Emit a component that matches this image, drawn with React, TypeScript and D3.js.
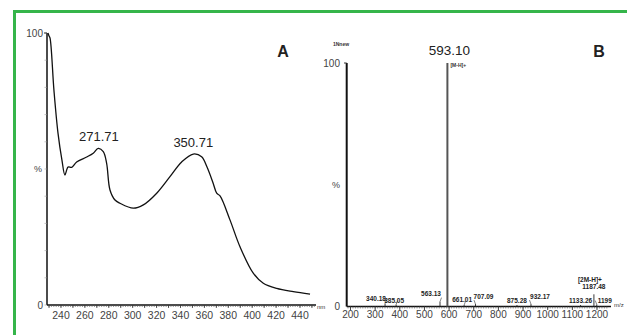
import * as d3 from "d3";

// Panel A: UV spectrum (wavelength nm, relative %)
const uvWavelength = [
  229.1, 230.0, 230.8, 234.1, 237.5, 240.8, 243.3, 245.9, 249.0, 253.1, 261.5, 267.0,
  271.2, 275.4, 278.2, 281.0, 285.2, 289.4, 300.5, 308.9, 320.1, 331.2, 341.0, 350.7,
  357.7, 362.2, 367.4, 370.3, 373.1, 381.4, 389.8, 400.9, 409.3, 420.5, 434.4, 448.4,
];
const uvPercent = [
  100, 98.9, 98.2, 79, 63.2, 53.3, 47.8, 50.7, 50.6, 52.6, 54.4, 55.8,
  57.6, 56.4, 52.1, 42.3, 38.6, 37.4, 35.6, 36.8, 41.1, 47.2, 52.6, 55.5,
  54.5, 50.7, 44.7, 41.1, 40.1, 31.3, 21.4, 11.7, 8.0, 6.1, 4.9, 4.0,
];
const uvPeakLabels = ["271.71", "350.71"];
const uvPeakPositions = [271.71, 350.71];
const uvPeakHeights = [57.6, 55.5];
const uvTicks = [240, 260, 280, 300, 320, 340, 360, 380, 400, 420, 440];

// Panel B: mass spectrum (m/z, relative intensity %)
const msMz = [340.18, 385.05, 563.13, 593.1, 661.01, 707.09, 875.28, 932.17, 1133.26, 1187.48, 1199];
const msIntensity = [1.2, 0.8, 2.0, 100, 0.6, 1.0, 0.6, 1.0, 0.6, 5.0, 0.8];
const msLabels = ["340.18", "385.05", "563.13", "", "661.01", "707.09", "875.28", "932.17", "1133.26", "1187.48", "1199"];
const msTicks = [200, 300, 400, 500, 600, 700, 800, 900, 1000, 1100, 1200];

// label layout nudges (px) for the small peak annotations
const msLabelDx = [-9, -2, -9, 0, -2, 8, 0, 9, 0, 0, 8];
const msLabelDy = [2, 3, -1, 0, 2, 0, 3, 0, 3, 0, 3];

const FONT = "'Liberation Sans', Arial, sans-serif";
const NARROW = "'Liberation Sans Narrow', 'Liberation Sans', Arial, sans-serif";

export default function App() {
  const width = 627;
  const height = 335;

  // A scales
  const xA = d3.scaleLinear().domain([228.3, 453.4]).range([47, 316]);
  const yA = d3.scaleLinear().domain([0, 100]).range([305, 33]);
  const uvLine = d3
    .line<number>()
    .x((d, i) => xA(uvWavelength[i]))
    .y((d) => yA(d))
    .curve(d3.curveCatmullRom.alpha(0.5));

  const minorA = d3.range(230, 453, 2);
  const midA = d3.range(230, 453, 10);

  // B scales
  const xB = d3.scaleLinear().domain([184.6, 1256.8]).range([346.7, 611]);
  const yB = d3.scaleLinear().domain([0, 100]).range([306.5, 63]);
  const minorB = d3.range(190, 1250, 10);

  const tickGrey = "#444";

  return (
    <div style={{ position: "absolute", left: 0, top: 0 }}>
      <svg width={width} height={height} style={{ display: "block", background: "#fff" }}>
        {/* Frame */}
        <rect x={14.5} y={11.5} width={700} height={400} fill="none" stroke="#35b54a" strokeWidth={3} />

        {/* ---------- Panel A ---------- */}
        <g fontFamily={FONT}>
          {/* y axis */}
          <line x1={47} x2={47} y1={yA(100)} y2={yA(0)} stroke="#111" strokeWidth={1.5} />
          {d3.range(0, 101, 10).map((t) => (
            <line key={t} x1={44.5} x2={47} y1={yA(t)} y2={yA(t)} stroke="#999" strokeWidth={0.6} />
          ))}
          <line x1={44} x2={47} y1={yA(100)} y2={yA(100)} stroke="#333" strokeWidth={1} />
          <text x={43} y={yA(100)} dy="0.35em" textAnchor="end" fontSize={10} fill={tickGrey} fontFamily={NARROW}>
            100
          </text>
          <text x={42} y={yA(50)} dy="0.35em" textAnchor="end" fontSize={9} fill={tickGrey}>
            %
          </text>
          <text x={43} y={yA(0)} dy="0.35em" textAnchor="end" fontSize={10} fill={tickGrey} fontFamily={NARROW}>
            0
          </text>

          {/* x axis */}
          <line x1={47} x2={316} y1={305} y2={305} stroke="#111" strokeWidth={1.5} />
          {minorA.map((t) => (
            <line key={t} x1={xA(t)} x2={xA(t)} y1={305} y2={307} stroke="#555" strokeWidth={0.6} />
          ))}
          {midA.map((t) => (
            <line key={t} x1={xA(t)} x2={xA(t)} y1={305} y2={308} stroke="#333" strokeWidth={0.8} />
          ))}
          {uvTicks.map((t) => (
            <text key={t} x={xA(t)} y={318.5} textAnchor="middle" fontSize={10.5} fill={tickGrey} fontFamily={NARROW}>
              {t}
            </text>
          ))}
          <text x={317} y={309} fontSize={6} fill="#333">
            nm
          </text>

          {/* spectrum */}
          <path d={uvLine(uvPercent) || ""} fill="none" stroke="#111" strokeWidth={1.3} />

          {uvPeakLabels.map((label, i) => (
            <text
              key={label}
              x={xA(uvPeakPositions[i])}
              y={yA(uvPeakHeights[i]) - 7}
              textAnchor="middle"
              fontSize={13}
              fill="#222"
            >
              {label}
            </text>
          ))}

          <text x={283} y={57} textAnchor="middle" fontSize={16} fontWeight="bold" fill="#222">
            A
          </text>
        </g>

        {/* ---------- Panel B ---------- */}
        <g fontFamily={FONT}>
          <text x={341} y={46} textAnchor="middle" fontSize={5} fontWeight="bold" fill="#333">
            1Nnew
          </text>

          {/* y axis */}
          <line x1={346.7} x2={346.7} y1={yB(100)} y2={yB(0)} stroke="#111" strokeWidth={2} />
          <line x1={344} x2={346.7} y1={yB(100)} y2={yB(100)} stroke="#333" strokeWidth={1} />
          <text x={340} y={yB(100)} dy="0.35em" textAnchor="end" fontSize={10} fill={tickGrey} fontFamily={NARROW}>
            100
          </text>
          <text x={340} y={yB(50)} dy="0.35em" textAnchor="end" fontSize={9} fill={tickGrey}>
            %
          </text>
          <text x={340} y={yB(0)} dy="0.35em" textAnchor="end" fontSize={10} fill={tickGrey} fontFamily={NARROW}>
            0
          </text>

          {/* x axis */}
          <line x1={346.7} x2={611} y1={yB(0)} y2={yB(0)} stroke="#111" strokeWidth={1.6} />
          {minorB.map((t) => (
            <line key={t} x1={xB(t)} x2={xB(t)} y1={yB(0)} y2={yB(0) + 2} stroke="#555" strokeWidth={0.6} />
          ))}
          {msTicks.map((t) => (
            <g key={t}>
              <line x1={xB(t)} x2={xB(t)} y1={yB(0)} y2={yB(0) + 3.5} stroke="#333" strokeWidth={0.9} />
              <text x={xB(t)} y={318} textAnchor="middle" fontSize={10} fill={tickGrey} fontFamily={NARROW}>
                {t}
              </text>
            </g>
          ))}
          <text x={614} y={307} fontSize={6} fill="#333">
            m/z
          </text>

          {/* peaks */}
          {msMz.map((mz, i) => (
            <line
              key={mz}
              x1={xB(mz)}
              x2={xB(mz)}
              y1={yB(0)}
              y2={yB(msIntensity[i])}
              stroke={msIntensity[i] > 50 ? "#555" : "#222"}
              strokeWidth={msIntensity[i] > 50 ? 2 : 0.9}
            />
          ))}

          {/* small peak labels */}
          {msLabels.map((label, i) =>
            label ? (
              <g key={label}>
                {msLabelDx[i] !== 0 && (
                  <line
                    x1={xB(msMz[i])}
                    y1={yB(msIntensity[i])}
                    x2={xB(msMz[i]) + Math.sign(msLabelDx[i]) * -1.5}
                    y2={yB(msIntensity[i]) - 4}
                    stroke="#333"
                    strokeWidth={0.6}
                  />
                )}
                <text
                  x={xB(msMz[i]) + msLabelDx[i]}
                  y={yB(msIntensity[i]) - 5 + msLabelDy[i]}
                  textAnchor="middle"
                  fontSize={6.5}
                  fontWeight="bold"
                  fill="#222"
                  fontFamily={NARROW}
                >
                  {label}
                </text>
              </g>
            ) : null
          )}
          <text
            x={xB(1187.48) - 4}
            y={yB(5) - 12}
            textAnchor="middle"
            fontSize={6.5}
            fontWeight="bold"
            fill="#222"
            fontFamily={NARROW}
          >
            [2M-H]+
          </text>

          {/* base peak annotation */}
          <text x={xB(593.1) + 2} y={55} textAnchor="middle" fontSize={13.5} fill="#222">
            593.10
          </text>
          <text x={xB(593.1) + 3} y={67} fontSize={5} fontWeight="bold" fill="#333">
            [M-H]+
          </text>

          <text x={599} y={57} textAnchor="middle" fontSize={16} fontWeight="bold" fill="#222">
            B
          </text>
        </g>
      </svg>
    </div>
  );
}
